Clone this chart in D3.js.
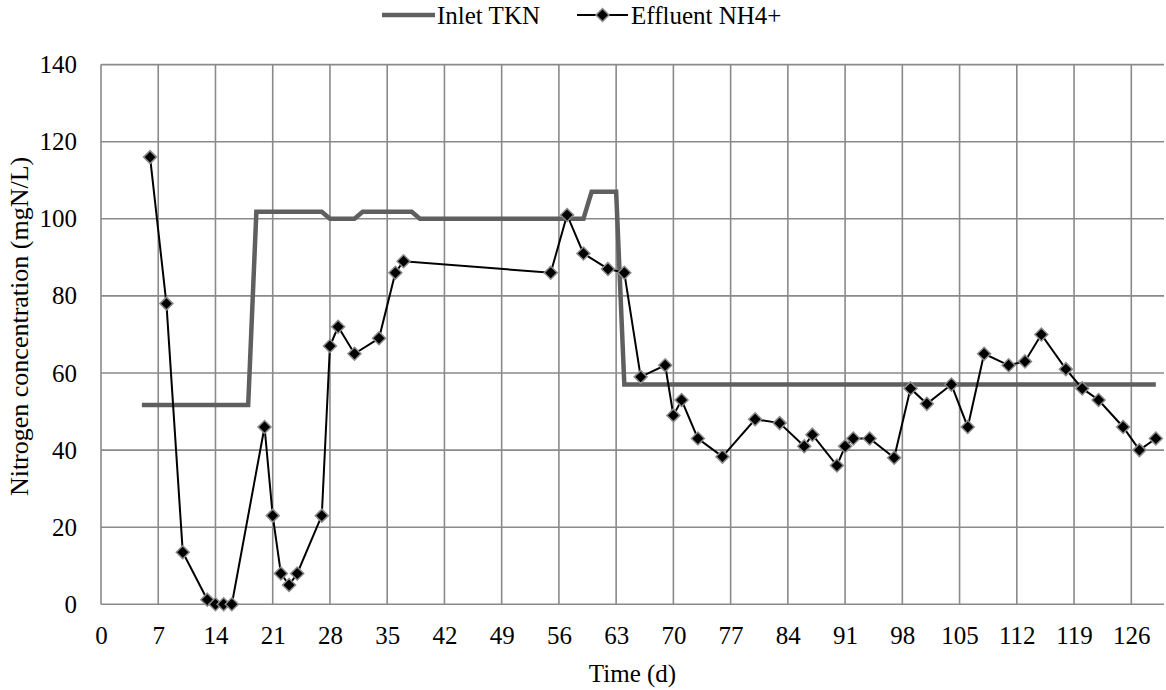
<!DOCTYPE html>
<html>
<head>
<meta charset="utf-8">
<script src="https://cdn.jsdelivr.net/npm/d3@7"></script>
<style>
  body { margin: 0; background: #fff; }
</style>
</head>
<body>
<svg id="chart" width="1166" height="690"></svg>
<script>
// effluent NH4+ samples
const effDays = [6, 8, 10, 13, 14, 15, 16, 20, 21, 22, 23, 24, 27, 28, 29, 31, 34,
  36, 37, 55, 57, 59, 62, 64, 66, 69, 70, 71, 73, 76, 80, 83, 86, 87, 90, 91, 92,
  94, 97, 99, 101, 104, 106, 108, 111, 113, 115, 118, 120, 122, 125, 127, 129];
const effVals = [116, 78, 13.5, 1.2, 0, 0, 0, 46, 23, 8, 5, 8, 23, 67, 72, 65, 69,
  86, 89, 86, 101, 91, 87, 86, 59, 62, 49, 53, 43, 38.3, 48, 47, 41, 44, 36, 41, 43,
  43, 38, 56, 52, 57, 46, 65, 62, 63, 70, 61, 56, 53, 46, 40, 43];

// inlet TKN (step profile)
const tknDays = [5, 18, 19, 27, 28, 31, 32, 38, 39, 59, 60, 63, 64, 129];
const tknVals = [51.7, 51.7, 101.8, 101.8, 100, 100, 101.8, 101.8, 100, 100, 107, 107, 57, 57];

const xTicks = d3.range(0, 127, 7);
const yTicks = [0, 20, 40, 60, 80, 100, 120, 140];

const FONT = "Liberation Serif, Times New Roman, DejaVu Serif, serif";
const FS = 25;

const margin = { top: 64.6, right: 2, bottom: 85.7, left: 101 };
const width = 1166, height = 690;
const innerW = width - margin.left - margin.right;
const innerH = height - margin.top - margin.bottom;

const svg = d3.select("#chart");
const g = svg.append("g").attr("transform", `translate(${margin.left},${margin.top})`);

const x = d3.scaleLinear().domain([0, 130]).range([0, innerW]);
const y = d3.scaleLinear().domain([0, 140]).range([innerH, 0]);

const gridColor = "#8a8a8a";

// gridlines
g.selectAll(".vgrid").data(xTicks).join("line")
  .attr("x1", d => x(d)).attr("x2", d => x(d))
  .attr("y1", 0).attr("y2", innerH)
  .attr("stroke", gridColor).attr("stroke-width", 1.6);
g.selectAll(".hgrid").data(yTicks).join("line")
  .attr("x1", 0).attr("x2", innerW)
  .attr("y1", d => y(d)).attr("y2", d => y(d))
  .attr("stroke", gridColor).attr("stroke-width", 1.6);

// axes (labels only, lines are gridlines)
const xAxis = d3.axisBottom(x).tickValues(xTicks).tickSize(0).tickPadding(22);
g.append("g").attr("transform", `translate(0,${innerH})`).call(xAxis)
  .attr("font-family", FONT).attr("font-size", FS)
  .call(a => a.select(".domain").remove())
  .selectAll("text").attr("fill", "#000");

const yAxis = d3.axisLeft(y).tickValues(yTicks).tickSize(0).tickPadding(24);
g.append("g").call(yAxis)
  .attr("font-family", FONT).attr("font-size", FS)
  .call(a => a.select(".domain").remove())
  .selectAll("text").attr("fill", "#000");

// axis titles
svg.append("text")
  .attr("x", margin.left + innerW / 2).attr("y", 682)
  .attr("text-anchor", "middle")
  .attr("font-family", FONT).attr("font-size", FS)
  .text("Time (d)");
svg.append("text")
  .attr("transform", `translate(28,${margin.top + innerH / 2 - 8}) rotate(-90)`)
  .attr("text-anchor", "middle")
  .attr("font-family", FONT).attr("font-size", FS + 1)
  .text("Nitrogen concentration (mgN/L)");

// TKN line
const tkn = tknDays.map((d, i) => ({ t: d, v: tknVals[i] }));
g.append("path").datum(tkn)
  .attr("fill", "none").attr("stroke", "#5f5f5f").attr("stroke-width", 4.5)
  .attr("d", d3.line().x(d => x(d.t)).y(d => y(d.v)));

// effluent line + markers
const eff = effDays.map((d, i) => ({ t: d, v: effVals[i] }));
g.append("path").datum(eff)
  .attr("fill", "none").attr("stroke", "#000").attr("stroke-width", 2)
  .attr("d", d3.line().x(d => x(d.t)).y(d => y(d.v)));

const diamond = "M0,-6.5L6.5,0L0,6.5L-6.5,0Z";
g.selectAll(".pt").data(eff).join("path")
  .attr("d", diamond)
  .attr("transform", d => `translate(${x(d.t)},${y(d.v)})`)
  .attr("fill", "#000").attr("stroke", "#8c8c8c").attr("stroke-width", 1.5);

// legend
const leg = svg.append("g").attr("font-family", FONT).attr("font-size", FS);
leg.append("line").attr("x1", 382).attr("x2", 435).attr("y1", 15).attr("y2", 15)
  .attr("stroke", "#5f5f5f").attr("stroke-width", 4.5);
leg.append("text").attr("x", 437).attr("y", 24).text("Inlet TKN");
leg.append("line").attr("x1", 577).attr("x2", 628).attr("y1", 15).attr("y2", 15)
  .attr("stroke", "#000").attr("stroke-width", 2);
leg.append("path").attr("d", diamond).attr("transform", "translate(602.5,15)")
  .attr("fill", "#000").attr("stroke", "#8c8c8c").attr("stroke-width", 1.5);
leg.append("text").attr("x", 631).attr("y", 24).text("Effluent NH4+");
</script>
</body>
</html>
